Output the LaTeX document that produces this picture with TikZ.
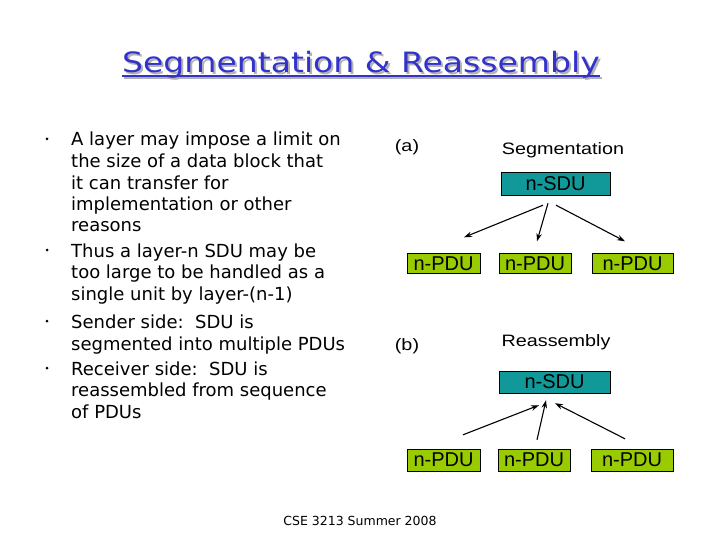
\documentclass[tikz,border=0pt]{standalone}
\usepackage{fontspec}
\newfontfamily\comicfont{DejaVu Sans}
\newfontfamily\widecomic[FakeStretch=1.18]{DejaVu Sans}
\newfontfamily\arialfont{Liberation Sans}
\newfontfamily\widearial[FakeStretch=1.2]{Liberation Sans}
\usetikzlibrary{calc,arrows.meta}
\definecolor{titleblue}{RGB}{51,51,204}
\definecolor{sduteal}{RGB}{17,153,153}
\definecolor{pdugreen}{RGB}{153,204,0}
\tikzset{
  bullettext/.style={anchor=base west, align=left, inner sep=0pt, font=\comicfont\fontsize{18}{21.5}\selectfont},
  sdubox/.style={draw=black, fill=sduteal, inner sep=0pt, minimum width=110pt, minimum height=22pt, font=\arialfont\fontsize{20}{24}\selectfont},
  pdubox/.style={draw=black, fill=pdugreen, inner sep=0pt, minimum height=20pt, font=\arialfont\fontsize{20}{24}\selectfont},
  caption/.style={inner sep=0pt, font=\widearial\fontsize{16.5}{20}\selectfont},
  flow/.style={-{Stealth[length=8pt,width=5.5pt]}, line width=1.1pt},
}

\begin{document}
\begin{tikzpicture}[x=1pt, y=-1pt]
\useasboundingbox[fill=white] (0,0) rectangle (720,540);
\node[anchor=base, inner sep=0pt, gray!60, font=\widecomic\fontsize{28}{32}\selectfont] (shadow) at (363,75) {Segmentation \& Reassembly};
\draw[gray!60, line width=1.5pt] ($(shadow.base west)+(0,3)$) -- ($(shadow.base east)+(0,3)$);
\node[anchor=base, inner sep=0pt, titleblue, font=\widecomic\fontsize{28}{32}\selectfont] (title) at (361,73) {Segmentation \& Reassembly};
\draw[titleblue, line width=1.5pt] ($(title.base west)+(0,3)$) -- ($(title.base east)+(0,3)$);

% base anchor sits on the last line
\node[bullettext] (b1) at (71,232) {A layer may impose a limit on\\the size of a data block that\\it can transfer for\\implementation or other\\reasons};
\node[bullettext] (b2) at (71,300) {Thus a layer-n SDU may be\\too large to be handled as a\\single unit by layer-(n-1)};
\node[bullettext] (b3) at (71,350) {Sender side:\ \ SDU is\\segmented into multiple PDUs};
\node[bullettext] (b4) at (71,418) {Receiver side:\ \ SDU is\\reassembled from sequence\\of PDUs};
\foreach \y in {146,257,328,375} \fill (47,\y-7) circle (1.5pt);

\node[caption] (lbla) at (407,147) {(a)};
\node[caption] (segt) at (563,150) {Segmentation};
\node[sdubox, minimum width=109pt, minimum height=23pt] (sdua) at (555.5,183.5) {n-SDU};
\node[pdubox, minimum width=73pt] (pdua1) at (443.5,263.5) {n-PDU};
\node[pdubox, minimum width=72pt] (pdua2) at (535,263.5) {n-PDU};
\node[pdubox, minimum width=81pt] (pdua3) at (632.5,263.5) {n-PDU};
\draw[flow] ($(sdua.south)+(-12.5,10)$) -- ($(pdua1.north)+(20.5,-16)$);
\draw[flow] ($(sdua.south)+(-7.5,8)$) -- ($(pdua2.north)+(2,-12)$);
\draw[flow] ($(sdua.south)+(0.5,10)$) -- ($(pdua3.north)+(-7.5,-12)$);

\node[caption] (lblb) at (407,346) {(b)};
\node[caption] (reas) at (556,342) {Reassembly};
\node[sdubox, minimum width=111pt] (sdub) at (554.5,382) {n-SDU};
\node[pdubox, minimum width=73pt, minimum height=22pt] (pdub1) at (443.5,460) {n-PDU};
\node[pdubox, minimum width=72pt, minimum height=22pt] (pdub2) at (534,460) {n-PDU};
\node[pdubox, minimum width=82pt, minimum height=22pt] (pdub3) at (632,460) {n-PDU};
\draw[flow] ($(pdub1.north)+(19.5,-14)$) -- ($(sdub.south)+(-15.5,12)$);
\draw[flow] ($(pdub2.north)+(3,-9)$) -- ($(sdub.south)+(-8.5,7)$);
\draw[flow] ($(pdub3.north)+(-7,-10)$) -- ($(sdub.south)+(0.5,10)$);

\node[anchor=base, inner sep=0pt, font=\comicfont\fontsize{12.5}{15}\selectfont] (foot) at (360,525) {CSE 3213 Summer 2008};
\end{tikzpicture}
\end{document}
